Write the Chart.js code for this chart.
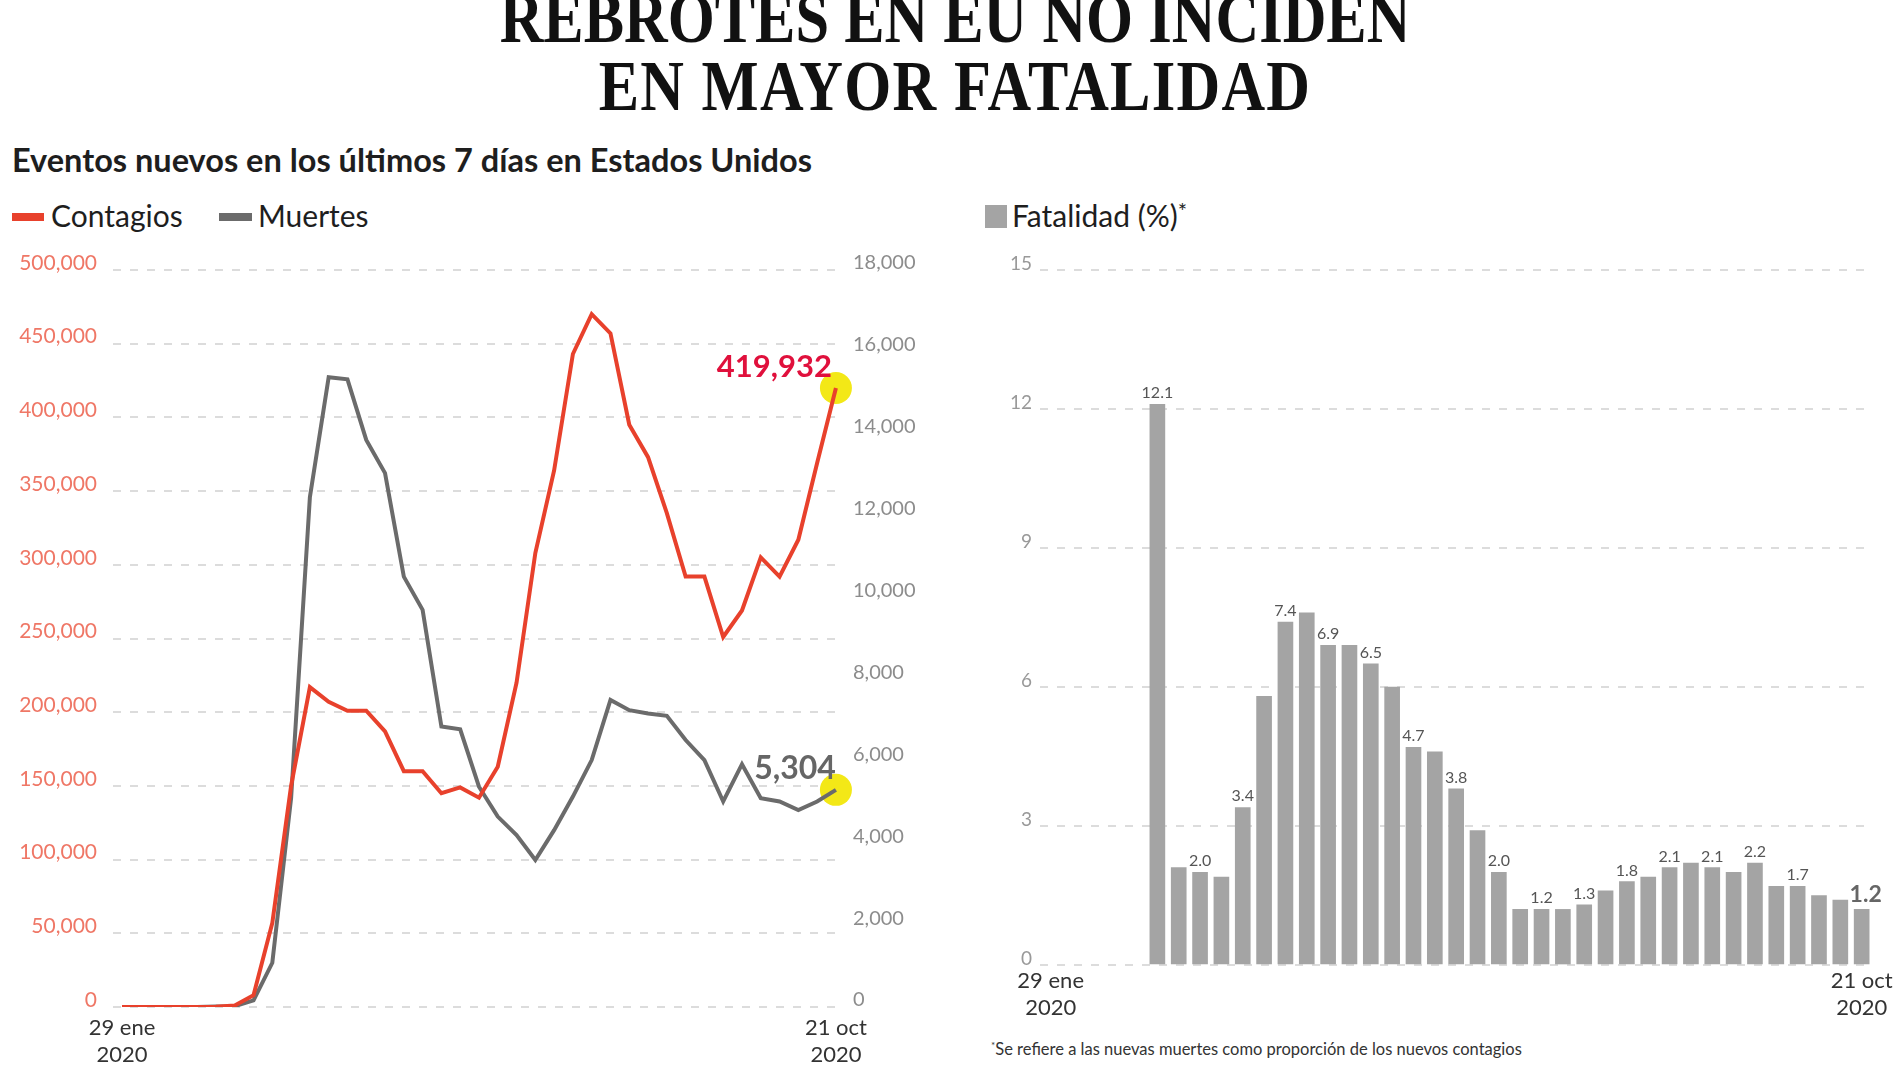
<!DOCTYPE html>
<html>
<head>
<meta charset="utf-8">
<script src="https://cdn.jsdelivr.net/npm/chart.js@4.4.1/dist/chart.umd.min.js"></script>
<style>
  body { margin: 0; background: #fff; width: 1900px; height: 1068px; overflow: hidden; position: relative; font-family: Lato, sans-serif; color: #1e1e1e; }
  .titulo { position: absolute; left: 5px; width: 1900px; text-align: center; white-space: nowrap;
            font-family: "Liberation Serif", serif; font-weight: bold; font-size: 72px; line-height: 72px;
            transform: scaleX(0.84); transform-origin: center; color: #111; }
  .txt { position: absolute; white-space: nowrap; line-height: 1.2; }
  .sw { position: absolute; }
  canvas { position: absolute; }
</style>
</head>
<body>
<div class="titulo" style="top:-18px">REBROTES EN EU NO INCIDEN</div>
<div class="titulo" style="top:50px; letter-spacing:1.5px">EN MAYOR FATALIDAD</div>

<div class="txt" style="left:12px; top:140px; font-size:32.5px; font-weight:bold;">Eventos nuevos en los últimos 7 días en Estados Unidos</div>

<div class="sw" style="left:12px; top:213px; width:32px; height:8px; background:#e8412c"></div>
<div class="txt" style="left:51px; top:197px; font-size:30px;">Contagios</div>
<div class="sw" style="left:219px; top:213px; width:33px; height:8px; background:#6b6b6b"></div>
<div class="txt" style="left:258px; top:197px; font-size:30px;">Muertes</div>

<div class="sw" style="left:985px; top:205px; width:22px; height:23px; background:#a4a4a4"></div>
<div class="txt" style="left:1012px; top:197px; font-size:30px;">Fatalidad (%)<span style="font-size:22px; vertical-align:8px">*</span></div>

<div class="txt" style="left:991px; top:1039px; font-size:16.5px; color:#333;"><span style="font-size:10px; vertical-align:6px">*</span>Se refiere a las nuevas muertes como proporción de los nuevos contagios</div>

<canvas id="lineas" width="940" height="828" style="left:0; top:240px"></canvas>
<canvas id="barras" width="950" height="828" style="left:950px; top:240px"></canvas>

<script>
// semanas de 2020 (cortes semanales)
const weeks = ["29 ene", "5 feb", "12 feb", "19 feb", "26 feb", "4 mar", "11 mar", "18 mar", "25 mar",
    "1 abr", "8 abr", "15 abr", "22 abr", "29 abr", "6 may", "13 may", "20 may", "27 may",
    "3 jun", "10 jun", "17 jun", "24 jun", "1 jul", "8 jul", "15 jul", "22 jul", "29 jul",
    "5 ago", "12 ago", "19 ago", "26 ago", "2 sep", "9 sep", "16 sep", "23 sep", "30 sep",
    "7 oct", "14 oct", "21 oct"];
const year = "2020";

const contagios = [0, 0, 0, 0, 0, 100, 1000, 8000, 57000, 150000, 217000, 207000, 201000, 201000,
    187000, 160000, 160000, 145000, 149000, 142000, 163000, 220000, 308000, 364000, 443000,
    470000, 457000, 395000, 373000, 335000, 292000, 292000, 251000, 269000, 305000, 292000,
    317000, 369000, 419932];

const muertes = [0, 0, 0, 0, 0, 12, 21, 160, 1080, 5100, 12450, 15380, 15330, 13850, 13040,
    10510, 9700, 6850, 6780, 5380, 4650, 4200, 3590, 4320, 5140, 6030, 7500, 7250, 7170, 7110,
    6520, 6030, 5020, 5930, 5100, 5020, 4810, 5020, 5304];

const fatalidad = [null, null, null, null, null, 12.1, 2.1, 2.0, 1.9, 3.4, 5.8, 7.4, 7.6, 6.9,
    6.9, 6.5, 6.0, 4.7, 4.6, 3.8, 2.9, 2.0, 1.2, 1.2, 1.2, 1.3, 1.6, 1.8, 1.9, 2.1, 2.2, 2.1,
    2.0, 2.2, 1.7, 1.7, 1.5, 1.4, 1.2];

// barras que llevan su valor escrito
const labeledWeeks = [5, 7, 9, 11, 13, 15, 17, 19, 21, 23, 25, 27, 29, 31, 33, 35];

const leftTicks = [0, 50000, 100000, 150000, 200000, 250000, 300000, 350000, 400000, 450000, 500000];
const rightTicks = [0, 2000, 4000, 6000, 8000, 10000, 12000, 14000, 16000, 18000];
const barTicks = [0, 3, 6, 9, 12, 15];

Chart.defaults.font.family = "Lato";
Chart.defaults.animation = false;

const dash = [8, 9];
const gridColor = "#dcdcdc";
const last = weeks.length - 1;

function edgeLabel(value) {
    return value === 0 ? [weeks[0], year] : [weeks[last], year];
}
function fmt(v) { return v.toLocaleString("en-US"); }

const endMarks = {
    id: "endMarks",
    beforeDatasetsDraw(chart) {
        const ctx = chart.ctx;
        ctx.save();
        ctx.fillStyle = "#f3e817";
        chart.data.datasets.forEach((ds, i) => {
            const p = chart.getDatasetMeta(i).data[last];
            ctx.beginPath();
            ctx.arc(p.x, p.y, 16, 0, Math.PI * 2);
            ctx.fill();
        });
        ctx.restore();
    },
    afterDatasetsDraw(chart) {
        const ctx = chart.ctx;
        ctx.save();
        ctx.textAlign = "right";
        ctx.textBaseline = "alphabetic";
        const red = chart.getDatasetMeta(0).data[last];
        ctx.font = "bold 31px Lato";
        ctx.fillStyle = "#e0103c";
        ctx.fillText(fmt(contagios[last]), red.x - 4, red.y - 11);
        const gray = chart.getDatasetMeta(1).data[last];
        ctx.font = "bold 32px Lato";
        ctx.fillStyle = "#666666";
        ctx.fillText(fmt(muertes[last]), gray.x, gray.y - 11);
        ctx.restore();
    }
};

new Chart(document.getElementById("lineas"), {
    type: "line",
    data: {
        datasets: [{
            label: "Contagios",
            data: contagios.map((v, i) => ({ x: i, y: v })),
            borderColor: "#e8412c",
            borderWidth: 4,
            pointRadius: 0,
            tension: 0,
            yAxisID: "y"
        }, {
            label: "Muertes",
            data: muertes.map((v, i) => ({ x: i, y: v })),
            borderColor: "#6b6b6b",
            borderWidth: 4,
            pointRadius: 0,
            tension: 0,
            yAxisID: "y1"
        }]
    },
    options: {
        responsive: false,
        layout: { padding: { top: 30 } },
        plugins: { legend: { display: false }, tooltip: { enabled: false } },
        scales: {
            x: {
                type: "linear", min: -0.48, max: 38.43, offset: false,
                grid: { display: false }, border: { display: false },
                afterBuildTicks: s => { s.ticks = [{ value: 0 }, { value: last }]; },
                afterFit: s => { s.height = 61; },
                ticks: { callback: edgeLabel, maxRotation: 0, autoSkip: false, padding: 0,
                         color: "#333", font: { size: 22, lineHeight: 1.2 } }
            },
            y: {
                position: "left", min: 0, max: 500000,
                afterBuildTicks: s => { s.ticks = leftTicks.map(v => ({ value: v })); },
                afterFit: s => { s.width = 113; },
                grid: { color: gridColor, lineWidth: 2, drawTicks: false },
                border: { display: false, dash: dash },
                ticks: { callback: fmt, color: "#ef7766", padding: 16, labelOffset: -7, font: { size: 21 } }
            },
            y1: {
                position: "right", min: 0, max: 18000,
                afterBuildTicks: s => { s.ticks = rightTicks.map(v => ({ value: v })); },
                afterFit: s => { s.width = 96; },
                grid: { display: false, drawTicks: false },
                border: { display: false },
                ticks: { callback: fmt, color: "#8c8c8c", padding: 9, labelOffset: -7, font: { size: 20 } }
            }
        }
    },
    plugins: [endMarks]
});

const barLabels = {
    id: "barLabels",
    afterDatasetsDraw(chart) {
        const ctx = chart.ctx;
        const bars = chart.getDatasetMeta(0).data;
        ctx.save();
        ctx.textAlign = "center";
        ctx.textBaseline = "alphabetic";
        ctx.fillStyle = "#555";
        ctx.font = "16px Lato";
        labeledWeeks.forEach(i => {
            ctx.fillText(fatalidad[i].toFixed(1), bars[i].x, bars[i].y - 6);
        });
        ctx.font = "bold 23px Lato";
        ctx.fillStyle = "#666";
        ctx.fillText(fatalidad[last].toFixed(1), bars[last].x + 4, bars[last].y - 7);
        ctx.restore();
    }
};

new Chart(document.getElementById("barras"), {
    type: "bar",
    data: {
        datasets: [{
            label: "Fatalidad (%)",
            data: fatalidad.map((v, i) => ({ x: i, y: v })),
            backgroundColor: "#a4a4a4",
            barThickness: 15,
            clip: false
        }]
    },
    options: {
        responsive: false,
        layout: { padding: { top: 30, right: 33 } },
        plugins: { legend: { display: false }, tooltip: { enabled: false } },
        scales: {
            x: {
                type: "linear", min: -0.5, max: 38.25, offset: false,
                grid: { display: false, offset: false }, border: { display: false },
                afterBuildTicks: s => { s.ticks = [{ value: 0 }, { value: last }]; },
                afterFit: s => { s.height = 103; },
                ticks: { callback: edgeLabel, maxRotation: 0, autoSkip: false, padding: -5,
                         color: "#333", font: { size: 22, lineHeight: 1.2 } }
            },
            y: {
                min: 0, max: 15,
                afterBuildTicks: s => { s.ticks = barTicks.map(v => ({ value: v })); },
                afterFit: s => { s.width = 90; },
                grid: { color: gridColor, lineWidth: 2, drawTicks: false },
                border: { display: false, dash: dash },
                ticks: { color: "#999", padding: 8, labelOffset: -6, font: { size: 19 } }
            }
        }
    },
    plugins: [barLabels]
});
</script>
</body>
</html>
